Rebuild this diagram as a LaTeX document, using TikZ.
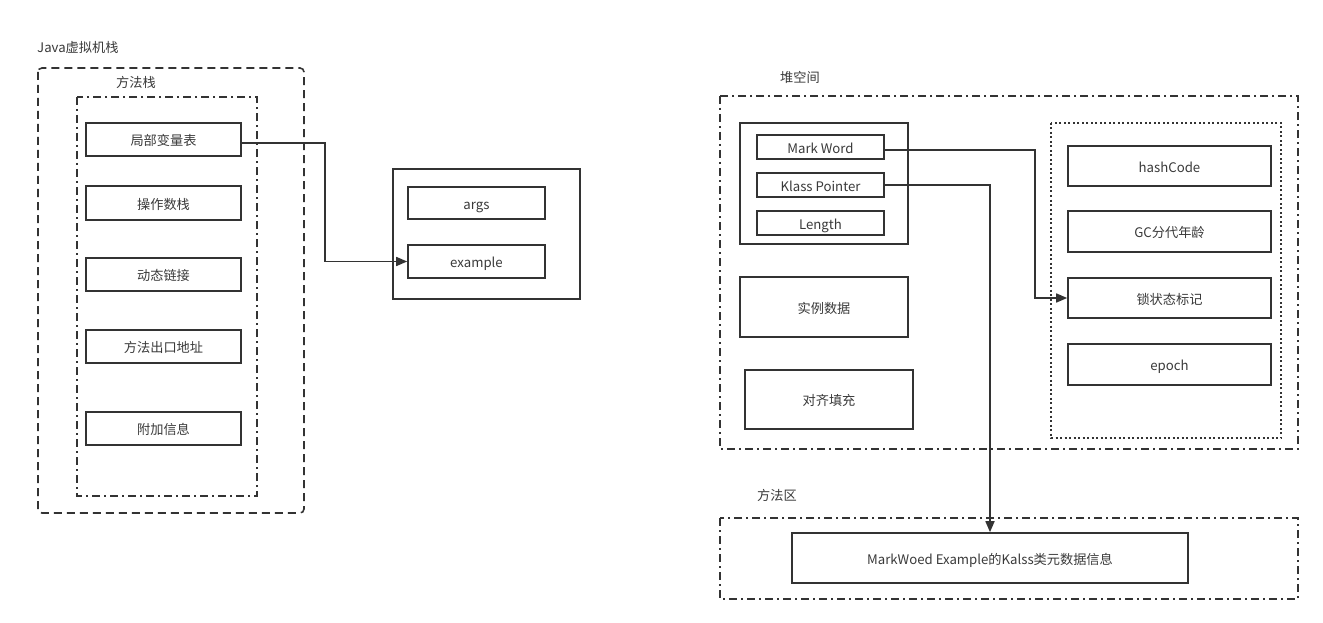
\documentclass[tikz,border=0pt]{standalone}
\usepackage{fontspec}
\setmainfont{Noto Sans CJK SC}
\usetikzlibrary{arrows.meta}
\definecolor{ink}{HTML}{333333}
\definecolor{txt}{HTML}{3a3a3a}
\begin{document}
\begin{tikzpicture}[x=1pt,y=-1pt,
  font=\fontsize{13.2}{15}\selectfont,
  every node/.style={text=txt},
  box/.style={draw=ink,line width=1.6pt,rectangle,inner sep=0pt,text height=12.5pt,text depth=0pt},
  dashbox/.style={draw=ink,line width=1.6pt,dash pattern=on 8pt off 5pt},
  dotdashbox/.style={draw=ink,line width=1.6pt,dash pattern=on 8pt off 4pt on 2pt off 4pt},
  dotbox/.style={draw=ink,line width=1.6pt,dash pattern=on 2pt off 2.5pt},
  conn/.style={draw=ink,line width=1.6pt,-{Triangle[length=11pt,width=9pt]}},
  lbl/.style={anchor=west,inner sep=0pt}]
\useasboundingbox (0,0) rectangle (1323,623);
\fill[white] (0,0) rectangle (1323,623);
% Java VM stack
\node[lbl] (jvmlbl) at (37,47) {Java虚拟机栈};
\draw[dashbox,rounded corners=4pt] (38,68) rectangle (304,513);
\node[lbl] (mslbl) at (116,82) {方法栈};
\draw[dotdashbox] (77,97) rectangle (257,496);
\newcommand{\rbox}[5]{\node[box,minimum width=#4-#2,minimum height=#5-#3] (#1) at ({(#2+#4)/2},{(#3+#5)/2})}
\rbox{lvt}{86}{123}{241}{156} {局部变量表};
\rbox{ops}{86}{186}{241}{220} {操作数栈};
\rbox{dyn}{86}{258}{241}{291} {动态链接};
\rbox{ret}{86}{330}{241}{363} {方法出口地址};
\rbox{add}{86}{412}{241}{445} {附加信息};
% locals frame
\rbox{frame}{393}{169}{580}{299} {};
\rbox{args}{408}{187}{545}{219} {args};
\rbox{ex}{408}{245}{545}{278} {example};
\coordinate (c1) at (325,143);
\draw[conn] (lvt.east |- c1) -- (c1) |- (ex.west);
% heap
\node[lbl] (heaplbl) at (780,77) {堆空间};
\draw[dotdashbox] (720,96) rectangle (1298,449);
\rbox{hdr}{740}{123}{908}{244} {};
\rbox{mw}{757}{135}{884}{159} {Mark Word};
\rbox{kp}{757}{173}{884}{197} {Klass Pointer};
\rbox{len}{757}{211}{884}{235} {Length};
\rbox{inst}{740}{277}{908}{337} {实例数据};
\rbox{pad}{745}{370}{913}{429} {对齐填充};
\draw[dotbox] (1051,123) rectangle (1281,438);
\rbox{hash}{1068}{146}{1271}{186} {hashCode};
\rbox{gc}{1068}{211}{1271}{252} {GC分代年龄};
\rbox{lock}{1068}{278}{1271}{318} {锁状态标记};
\rbox{epoch}{1068}{344}{1271}{385} {epoch};
% method area
\node[lbl] (malbl) at (757,495) {方法区};
\draw[dotdashbox] (720,518) rectangle (1298,599);
\rbox{meta}{792}{533}{1188}{583} {MarkWoed Example的Kalss类元数据信息};
% connectors
\coordinate (c2) at (1035,150);
\draw[conn] (mw.east |- c2) -- (c2) |- (lock.west);
\coordinate (c3) at (990,185);
\draw[conn] (kp.east) -- (c3) -- (c3 |- meta.north);
\end{tikzpicture}
\end{document}
